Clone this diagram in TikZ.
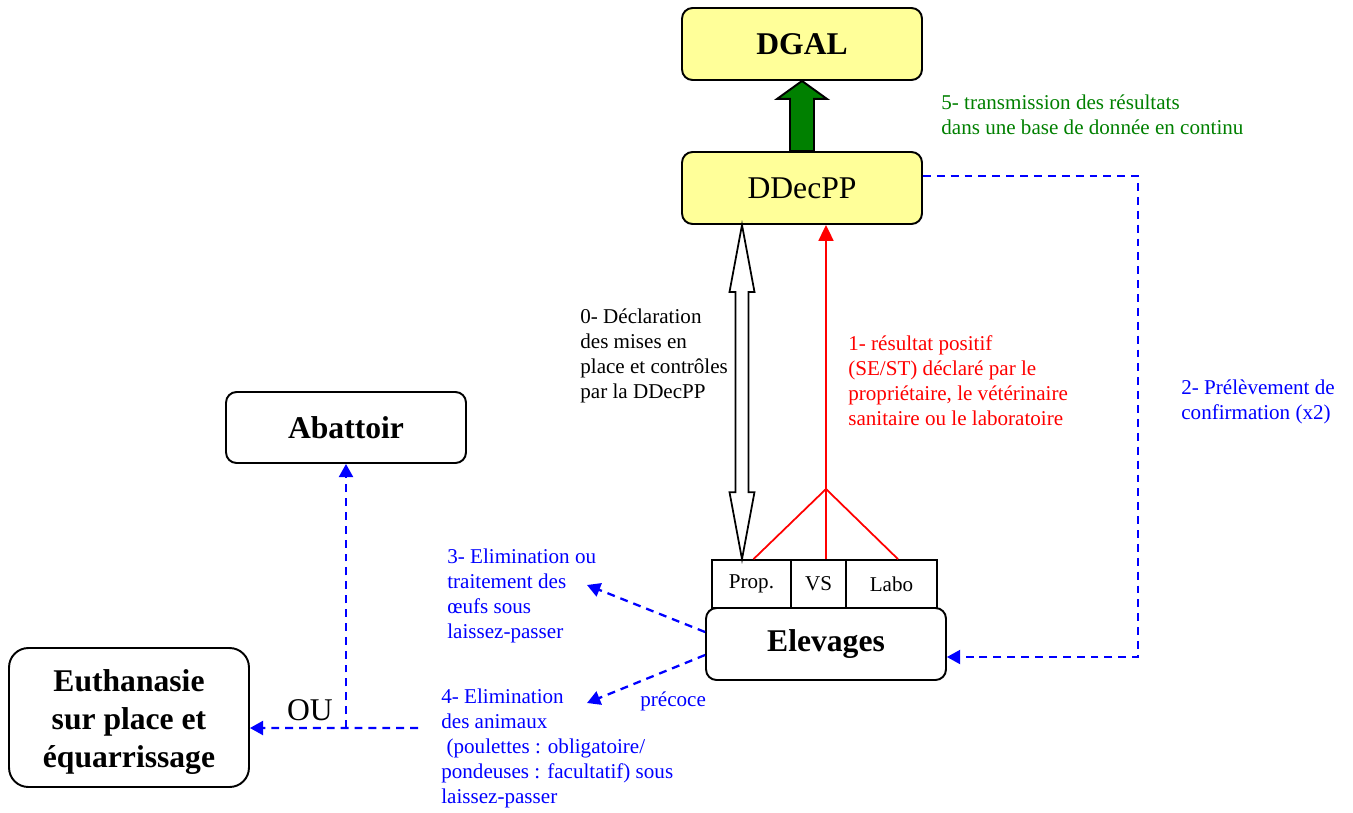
\documentclass[tikz,border=0pt]{standalone}
\usepackage{fontspec}
\setmainfont{Liberation Serif}
\usetikzlibrary{arrows.meta}
\usetikzlibrary{calc}
\definecolor{jaune}{RGB}{255,255,153}
\definecolor{vert}{RGB}{0,128,0}
\tikzstyle{box} = [draw, line width=1.1pt, rounded corners=6pt, minimum width=4.8cm, minimum height=1.44cm, align=center, font=\fontsize{18}{21}\selectfont]
\tikzstyle{strong} = [font=\fontsize{18}{21}\selectfont\bfseries]
\tikzstyle{yellow box} = [box, fill=jaune]
\tikzstyle{cell} = [draw, line width=1pt, minimum height=0.96cm, inner sep=0, font=\fontsize{12}{14.2}\selectfont]
\tikzstyle{note} = [inner sep=0, anchor=west, align=left, font=\fontsize{12}{14.2}\selectfont]
\tikzstyle{dashed blue} = [blue, line width=1.3pt, dash pattern=on 4.5pt off 3.4pt, -{Triangle[length=7.5pt,width=8pt]}]
\tikzstyle{red line} = [red, line width=1pt]

\begin{document}
\begin{tikzpicture}[x=0.02cm, y=-0.02cm]
	\useasboundingbox (0,0) rectangle (1353,812);

	\node (dgal)   at(802,44)    [yellow box, strong] {DGAL};
	\node (ddecpp) at(802,188)   [yellow box] {DDecPP};
	\node (prop)   at(751.5,584) [cell, minimum width=1.58cm] {Prop.};
	\node (vs)     at(818.5,584) [cell, minimum width=1.1cm] {VS};
	\node (labo)   at(891.5,584) [cell, minimum width=1.82cm] {Labo};
	\node (elev)   at(826,644)   [box, strong] {Elevages};
	\node (abat)   at(346,427.5) [box, strong, minimum height=1.42cm] {Abattoir};
	\node (euth)   at(129,717.5) [box, strong, minimum height=2.78cm, rounded corners=11pt, font=\fontsize{18}{21.5}\selectfont\bfseries] {\rule{0pt}{17.5pt}Euthanasie\\sur place et\\équarrissage};

	\node (t5) at(941,114.5) [note, text=vert] {5- transmission des résultats\\dans une base de donnée en continu};
	\node (t0) at(580,355.5) [note] {0- Déclaration\\des mises en\\place et contrôles\\par la DDecPP};
	\node (t1) at(848,380.5) [note, text=red] {1- résultat positif\\(SE/ST) déclaré par le\\propriétaire, le vétérinaire\\sanitaire ou le laboratoire};
	\node (t2) at(1181,402)  [note, text=blue] {2- Prélèvement de\\confirmation (x2)};
	\node (t3) at(447,595.5) [note, text=blue] {3- Elimination ou\\traitement des\\œufs sous\\laissez-passer};
	\node (t4) at(441,748.5) [note, text=blue] {4- Elimination\\des animaux\\\ (poulettes : obligatoire/\\pondeuses : facultatif) sous\\laissez-passer};
	\node (pre) at(640,701)  [note, text=blue] {précoce};
	\node (ou)  at(310,710)  [font=\fontsize{18}{21}\selectfont] {OU};

	\coordinate (rj) at(826,489);
	\coordinate (c2) at(1138,657);
	\coordinate (c3) at(587,585);
	\coordinate (c4) at(587,703);
	\coordinate (c5) at(418,728);
	\coordinate (d0) at($(prop.north)+(-9.5,0)$);
	\coordinate (d1) at(d0 |- ddecpp.south);

	\draw[line width=1.1pt, fill=vert] ($(ddecpp.north)+(-12,0)$) -- ($(dgal.south)+(-12,18)$) -- ($(dgal.south)+(-25,18)$) -- (dgal.south) -- ($(dgal.south)+(25,18)$) -- ($(dgal.south)+(12,18)$) -- ($(ddecpp.north)+(12,0)$) -- cycle;

	\draw[line width=1pt, fill=white] (d1) -- ($(d1)+(12.5,67)$) -- ($(d1)+(6.5,67)$) -- ($(d0)+(6.5,-67)$) -- ($(d0)+(12.5,-67)$) -- (d0) -- ($(d0)+(-12.5,-67)$) -- ($(d0)+(-6.5,-67)$) -- ($(d1)+(-6.5,67)$) -- ($(d1)+(-12.5,67)$) -- cycle;

	\draw[red line] (rj) -- ($(prop.north)+(2,0)$);
	\draw[red line] (rj) -- (rj |- vs.north);
	\draw[red line] (rj) -- ($(labo.north)+(6.5,0)$);
	\draw[red line, -{Triangle[length=9pt,width=8.5pt]}] (rj) -- (rj |- ddecpp.south);

	\draw[dashed blue, line width=1pt] ($(ddecpp.east)+(0,-12)$) -| (c2) -- ($(elev.east)+(0,13)$);
	\draw[dashed blue] ($(elev.west)+(0,-12)$) -- (c3);
	\draw[dashed blue] ($(elev.west)+(0,11)$) -- (c4);
	\draw[dashed blue] (c5) -- ($(euth.east)+(0,10.5)$);
	\draw[dashed blue] (abat.south |- c5) -- (abat.south);
\end{tikzpicture}
\end{document}
